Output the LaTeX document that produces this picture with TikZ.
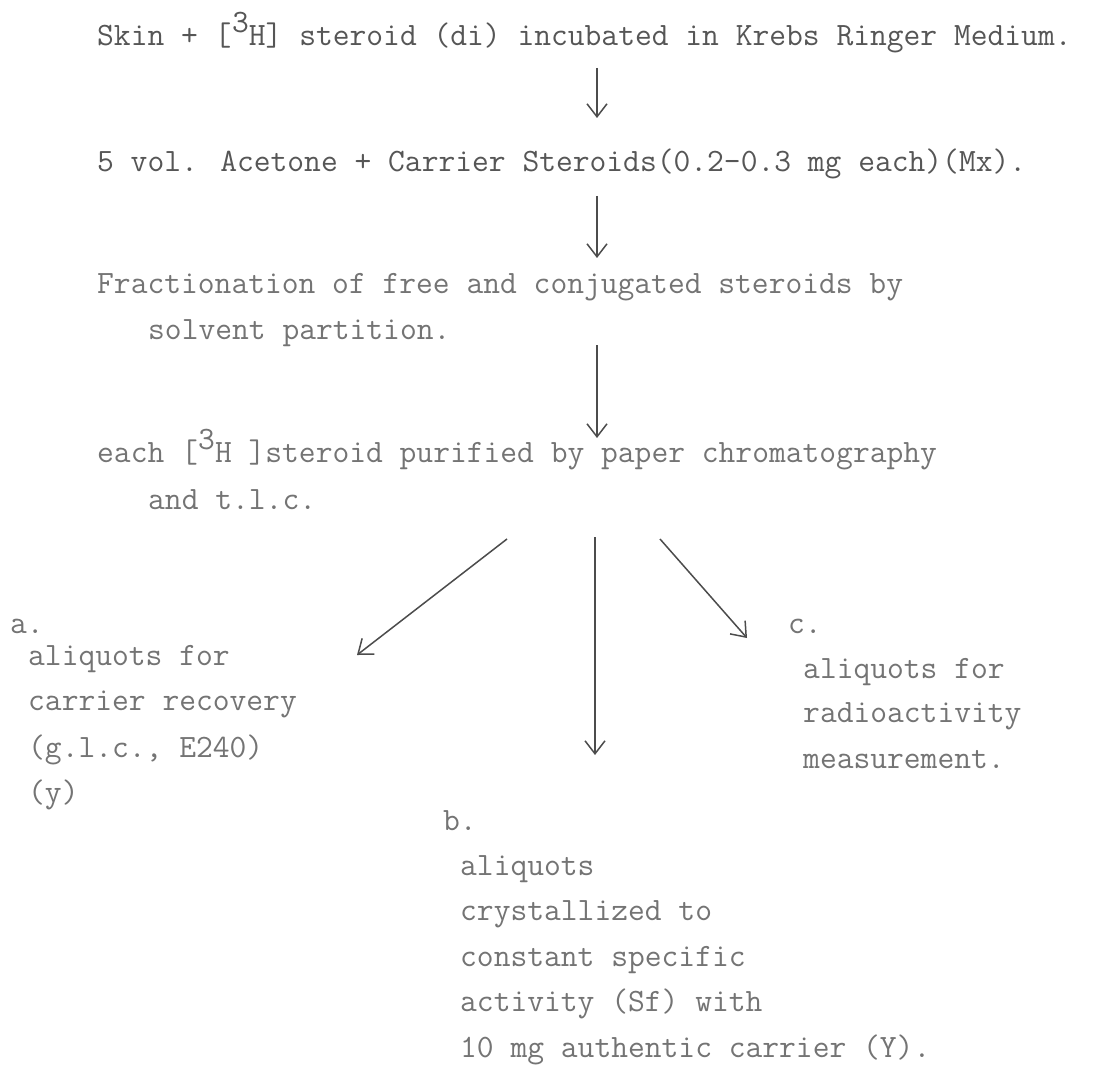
\documentclass[tikz,border=0pt]{standalone}
\usetikzlibrary{arrows.meta}
\definecolor{inkdark}{HTML}{565656}
\definecolor{inklight}{HTML}{747474}
\definecolor{arrowink}{HTML}{4C4C4C}
\newcommand{\tw}{\fontsize{32.6}{46}\selectfont\ttfamily}
\newcommand{\upthree}{\makebox[0.525em][c]{\raisebox{13pt}{3}}}
\newcommand{\lbrk}{\makebox[0.525em][l]{[}}
\begin{document}
\begin{tikzpicture}[x=1pt,y=-1pt,
  txt/.style={anchor=base west, inner sep=0pt, font=\tw, text=inklight},
  txtdark/.style={txt, text=inkdark},
  arr/.style={draw=arrowink, line width=1.5pt, -{Straight Barb[length=13pt,width=20pt,line width=1.5pt]}}]
\fill[white] (0,0) rectangle (1097,1067);
\useasboundingbox (0,0) rectangle (1097,1067);

% main column
\node[txtdark] (l1) at (97,46) {Skin + \lbrk\upthree H] steroid (di) incubated in Krebs Ringer Medium.};
\node[txtdark] (l2) at (97,172) {5 vol. Acetone + Carrier Steroids(0.2-0.3 mg each)(Mx).};
\node[txt] (l3a) at (97,293) {Fractionation of free and conjugated steroids by};
\node[txt] (l3b) at (148,339) {solvent partition.};
\node[txt] (l4a) at (97,462) {each [\upthree H ]steroid purified by paper chromatography};
\node[txt] (l4b) at (148,509) {and t.l.c.};

% branch a
\node[txt] (aL) at (10,633) {a.};
\node[txt] (a1) at (28,665) {aliquots for};
\node[txt] (a2) at (28,710) {carrier recovery};
\node[txt] (a3) at (28,757) {(g.l.c., E240)};
\node[txt] (a4) at (28,802) {(y)};

% branch b
\node[txt] (bL) at (443,830) {b.};
\node[txt] (b1) at (460,875) {aliquots};
\node[txt] (b2) at (460,920) {crystallized to};
\node[txt] (b3) at (460,966) {constant specific};
\node[txt] (b4) at (460,1011) {activity (Sf) with};
\node[txt] (b5) at (460,1057) {10 mg authentic carrier (Y).};

% branch c
\node[txt] (cL) at (788,633) {c.};
\node[txt] (c1) at (803,678) {aliquots for};
\node[txt] (c2) at (803,722) {radioactivity};
\node[txt] (c3) at (803,768) {measurement.};

% arrow end points
\coordinate (t1) at (597,68);  \coordinate (h1) at (597,118);
\coordinate (t2) at (597,196); \coordinate (h2) at (597,258);
\coordinate (t3) at (597,345); \coordinate (h3) at (597,438);
\coordinate (ta) at (507,539); \coordinate (ha) at (357,655);
\coordinate (tb) at (595,537); \coordinate (hb) at (595,755);
\coordinate (tc) at (660,539); \coordinate (hc) at (747,638);

\draw[arr] (t1) -- (h1);
\draw[arr] (t2) -- (h2);
\draw[arr] (t3) -- (h3);
\draw[arr] (ta) -- (ha);
\draw[arr] (tb) -- (hb);
\draw[arr] (tc) -- (hc);
\end{tikzpicture}
\end{document}
